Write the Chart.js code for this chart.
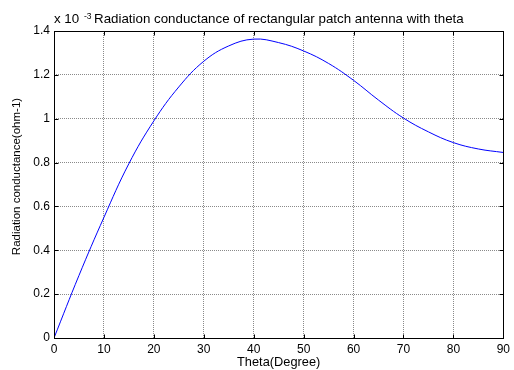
<!DOCTYPE html>
<html>
<head>
<meta charset="utf-8">
<script src="https://cdn.jsdelivr.net/npm/chart.js@4/dist/chart.umd.min.js"></script>
<style>
  html, body { margin: 0; padding: 0; background: #fff; }
  #wrap { width: 514px; height: 370px; }
</style>
</head>
<body>
<div id="wrap"><canvas id="conductanceChart" width="514" height="370"></canvas></div>
<script>
// Dados (G em unidades de 1e-3 ohm-1)
const thetaDeg = [0, 5, 10, 15, 20, 25, 30, 35, 40, 45, 50, 55, 60, 65, 70, 75, 80, 85, 90];
const conductanceE3 = [0, 0.285, 0.55, 0.795, 0.99, 1.145, 1.262, 1.332, 1.363, 1.347, 1.309, 1.252, 1.175, 1.085, 1.003, 0.94, 0.891, 0.862, 0.846];
const xTicks = [0, 10, 20, 30, 40, 50, 60, 70, 80, 90];
const yTicks = [0, 0.2, 0.4, 0.6, 0.8, 1.0, 1.2, 1.4];

const font = '"Liberation Sans", Arial, sans-serif';

// Caixa preta + marcas internas + textos (título com expoente, títulos dos eixos)
const matlabFrame = {
  id: 'matlabFrame',
  afterDraw(chart) {
    const ctx = chart.ctx;
    const a = chart.chartArea;
    const xs = chart.scales.x, ys = chart.scales.y;
    const L = Math.round(a.left) + 0.5, R = Math.round(a.right) + 0.5;
    const T = Math.round(a.top) + 0.5, B = Math.round(a.bottom) + 0.5;
    ctx.save();
    ctx.strokeStyle = '#000';
    ctx.lineWidth = 1;
    ctx.strokeRect(L, T, R - L, B - T);
    ctx.beginPath();
    xTicks.forEach(v => {
      const px = Math.round(xs.getPixelForValue(v)) + 0.5;
      ctx.moveTo(px, B); ctx.lineTo(px, B - 4);
      ctx.moveTo(px, T); ctx.lineTo(px, T + 4);
    });
    yTicks.forEach(v => {
      const py = Math.round(ys.getPixelForValue(v)) + 0.5;
      ctx.moveTo(L, py); ctx.lineTo(L + 4, py);
      ctx.moveTo(R, py); ctx.lineTo(R - 4, py);
    });
    ctx.stroke();

    ctx.fillStyle = '#000';
    ctx.textBaseline = 'alphabetic';
    ctx.textAlign = 'left';
    ctx.font = '13.33px ' + font;
    ctx.fillText('x 10', 54, 23);
    ctx.font = '8.5px ' + font;
    ctx.fillText('-3', 84, 18.5);
    ctx.font = '13.33px ' + font;
    ctx.fillText('Radiation conductance of rectangular patch antenna with theta', 94, 23);

    ctx.textAlign = 'center';
    ctx.textBaseline = 'middle';
    ctx.font = '12.8px ' + font;
    ctx.fillText('Theta(Degree)', (a.left + a.right) / 2, 362);

    ctx.font = '11.5px ' + font;
    ctx.translate(17, 176.5);
    ctx.rotate(-Math.PI / 2);
    ctx.fillText('Radiation conductance(ohm-1)', 0, 0);
    ctx.restore();
  }
};

const ctx = document.getElementById('conductanceChart').getContext('2d');
const chart = new Chart(ctx, {
  type: 'line',
  data: {
    datasets: [{
      label: 'G',
      data: thetaDeg.map((t, i) => ({ x: t, y: conductanceE3[i] })),
      borderColor: '#0000ff',
      borderWidth: 1,
      pointRadius: 0,
      fill: false,
      tension: 0.4
    }]
  },
  options: {
    responsive: false,
    animation: false,
    layout: { padding: { left: 0, right: 8, top: 31, bottom: 0 } },
    plugins: {
      legend: { display: false },
      tooltip: { enabled: false },
      title: { display: false }
    },
    scales: {
      x: {
        type: 'linear',
        min: 0,
        max: 90,
        afterBuildTicks: s => { s.ticks = xTicks.map(v => ({ value: v })); },
        afterFit: s => { s.height = 32; },
        ticks: { color: '#000', font: { family: font, size: 12 }, padding: 4, maxRotation: 0 },
        grid: { color: '#8a8a8a', drawTicks: false },
        border: { display: false, dash: [1, 1] }
      },
      y: {
        type: 'linear',
        min: 0,
        max: 1.4,
        afterBuildTicks: s => { s.ticks = yTicks.map(v => ({ value: v })); },
        afterFit: s => { s.width = 54; },
        ticks: {
          color: '#000',
          font: { family: font, size: 12 },
          padding: 4,
          callback: v => String(Number(v.toFixed(1)))
        },
        grid: { color: '#8a8a8a', drawTicks: false },
        border: { display: false, dash: [1, 1] }
      }
    }
  },
  plugins: [matlabFrame]
});
</script>
</body>
</html>
